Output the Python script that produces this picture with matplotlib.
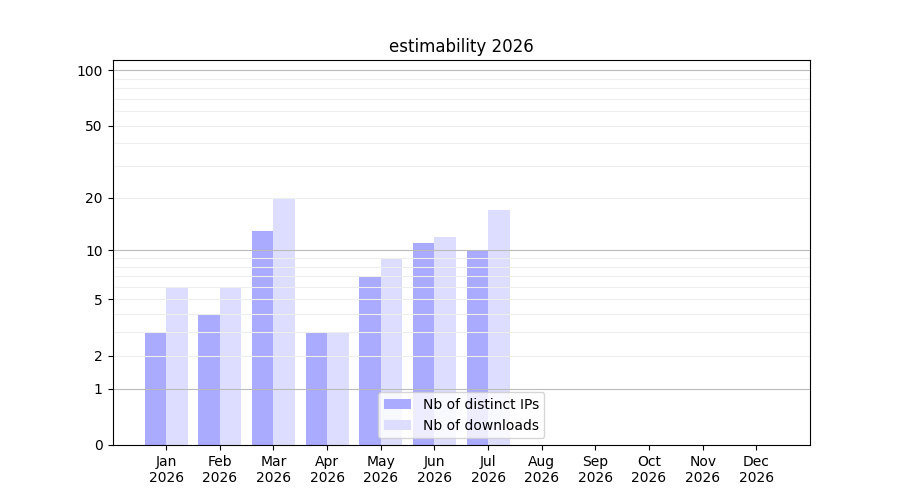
import numpy as np
import matplotlib
matplotlib.use("Agg")
import matplotlib.pyplot as plt
from matplotlib.ticker import FixedLocator, FixedFormatter, NullLocator

months = ["Jan", "Feb", "Mar", "Apr", "May", "Jun", "Jul", "Aug", "Sep", "Oct", "Nov", "Dec"]
year = "2026"
ips = [3, 4, 13, 3, 7, 11, 10]
downloads = [6, 6, 20, 3, 9, 12, 17]
yticks = [0, 1, 2, 5, 10, 20, 50, 100]

fig, ax = plt.subplots(figsize=(9, 5), dpi=100)

fwd = lambda v: np.log10(1 + np.clip(v, 0, None))
inv = lambda v: 10 ** v - 1
ax.set_yscale("function", functions=(fwd, inv))

x = np.arange(len(ips))
w = 0.4
ax.bar(x - w / 2, ips, width=w, color="#aaaaff", label="Nb of distinct IPs", zorder=1)
ax.bar(x + w / 2, downloads, width=w, color="#ddddff", label="Nb of downloads", zorder=1)

ax.set_xlim(-1, 12)
ax.set_ylim(0, 113.5)
ax.set_xticks(np.arange(12))
ax.set_xticklabels([f"{m}\n{year}" for m in months])

ax.yaxis.set_major_locator(FixedLocator(yticks))
ax.yaxis.set_major_formatter(FixedFormatter([str(t) for t in yticks]))
ax.yaxis.set_minor_locator(NullLocator())

minor = list(range(2, 10)) + list(range(20, 100, 10))
for v in minor:
    ax.axhline(v, color="#eeeeee", linewidth=0.8, zorder=2)
for v in [1, 10, 100]:
    ax.axhline(v, color="#bbbbbb", linewidth=0.8, zorder=2.1)
for s in ax.spines.values():
    s.set_zorder(4)

ax.set_title("estimability 2026")
ax.legend(loc="lower center")

fig.savefig("out.png")
